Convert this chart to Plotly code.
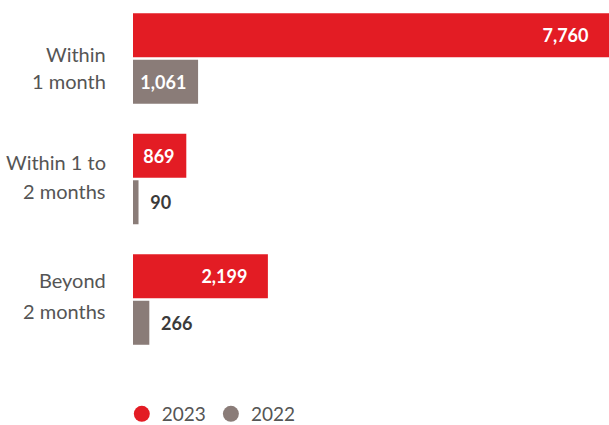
import plotly.graph_objects as go

categories = ["Within 1 month", "Within 1 to 2 months", "Beyond 2 months"]
category_lines = [["Within", "1 month"], ["Within 1 to", "2 months"], ["Beyond", "2 months"]]
values_2023 = [7760, 869, 2199]
values_2022 = [1061, 90, 266]
series_names = ["2023", "2022"]

RED = "#E31C24"
GRAY = "#8A7C78"
LABEL = "#555555"
DARK = "#3A3A3A"
NB = "\u00a0"

# label styling (placement inside/outside bars and padding)
pos_2023 = ["inside", "inside", "inside"]
pad_2023 = [4, 2, 4]
pos_2022 = ["inside", "outside", "outside"]
pad_2022 = [2, 2, 2]
# vertical pixel shifts of category label lines (upward positive)
line_shifts = [[5, -22], [17, -12], [20, -11]]


def make_text(vals, positions, pads):
    out = []
    for v, p, n in zip(vals, positions, pads):
        s = f"{v:,}"
        out.append(s + NB * n if p == "inside" else NB * n + s)
    return out


fig = go.Figure()
for name, vals, col, pos, pad in [
    (series_names[0], values_2023, RED, pos_2023, pad_2023),
    (series_names[1], values_2022, GRAY, pos_2022, pad_2022),
]:
    fig.add_trace(go.Bar(
        y=categories, x=vals, orientation="h", name=name,
        marker=dict(color=col, line=dict(width=0)),
        text=make_text(vals, pos, pad), textposition=pos,
        insidetextanchor="end", textangle=0,
        insidetextfont=dict(family="Lato", size=18, color="white", weight="bold"),
        outsidetextfont=dict(family="Lato", size=18, color=DARK, weight="bold"),
        cliponaxis=False, showlegend=False, hoverinfo="skip",
    ))
    fig.add_trace(go.Scatter(
        x=[None], y=[None], mode="markers", name=name,
        marker=dict(symbol="circle", size=16, color=col), showlegend=True,
    ))

annotations = []
for cat, lines, shifts in zip(categories, category_lines, line_shifts):
    for line, sh in zip(lines, shifts):
        annotations.append(dict(
            xref="paper", yref="y", x=0, y=cat, text=line,
            xanchor="right", yanchor="middle", xshift=-25, yshift=sh,
            showarrow=False, font=dict(family="Lato", size=20, color=LABEL),
        ))

fig.update_layout(
    width=609, height=425,
    margin=dict(l=133, r=0, t=0, b=65),
    paper_bgcolor="white", plot_bgcolor="white",
    barmode="group", bargap=0.228, bargroupgap=0.054,
    font=dict(family="Lato", color=LABEL),
    annotations=annotations,
    legend=dict(
        orientation="h", xref="container", yref="container",
        x=0.2, xanchor="left", y=0.026, yanchor="middle",
        font=dict(family="Lato", size=19, color=LABEL),
        itemsizing="trace", bgcolor="rgba(0,0,0,0)",
    ),
)
fig.update_xaxes(range=[0, 7760], visible=False, fixedrange=True)
fig.update_yaxes(
    type="category", categoryorder="array", categoryarray=categories,
    range=[2.502, -0.4855], showgrid=False, zeroline=False, showline=False,
    ticks="", showticklabels=False,
)

fig.write_html(
    "out.html",
    config={"displayModeBar": False, "staticPlot": True},
    post_script="document.body.style.margin='0';",
)
